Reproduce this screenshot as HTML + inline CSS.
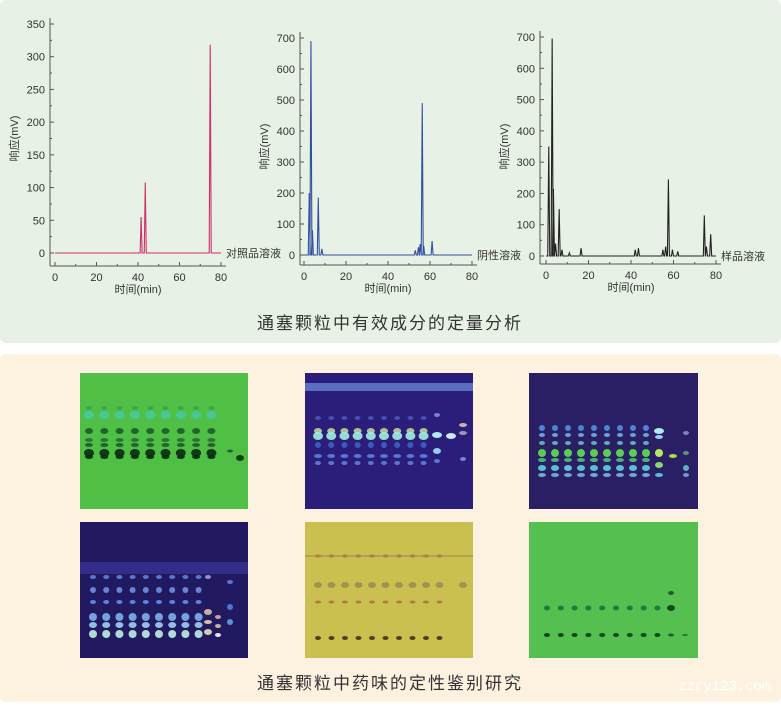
<!DOCTYPE html>
<html><head><meta charset="utf-8"><style>
body{margin:0;width:781px;height:702px;background:#fff;overflow:hidden;font-family:"Liberation Sans","Noto Sans CJK SC",sans-serif}
</style></head><body>
<svg id="s" width="781" height="702" xmlns="http://www.w3.org/2000/svg" font-family="Liberation Sans, Noto Sans CJK SC, sans-serif">
<rect x="0" y="0" width="781" height="343" rx="6" fill="#e8f1e5"/>
<rect x="0" y="354" width="781" height="348" rx="6" fill="#fdf1e0"/>
<text x="390" y="329" font-size="17" text-anchor="middle" fill="#333" letter-spacing="2">通塞颗粒中有效成分的定量分析</text>
<text x="390" y="689" font-size="17" text-anchor="middle" fill="#333" letter-spacing="2">通塞颗粒中药味的定性鉴别研究</text>
<text x="678" y="690" font-size="14" fill="#fff" font-family="Liberation Mono, monospace">zzry123.com</text>
<g id="charts"></g><g id="plates"></g>
</svg>
<script>
const NS="http://www.w3.org/2000/svg";
function el(t,a,txt,p){const e=document.createElementNS(NS,t);for(const k in a)e.setAttribute(k,a[k]);if(txt!==undefined&&txt!==null)e.textContent=String(txt);(p||document.getElementById('charts')).appendChild(e);return e;}
function chart(o){
 const {ax,x0,x80,yTop,y0,ymax,step,yb,peaks,col,label}=o;
 el('line',{x1:ax,y1:yTop-6,x2:ax,y2:yb,stroke:'#555','stroke-width':1});
 el('line',{x1:ax,y1:yb,x2:x80+5,y2:yb,stroke:'#555','stroke-width':1});
 for(let v=0;v<=ymax;v+=step/2){const y=y0-(y0-yTop)*v/ymax;const maj=(v%step==0);
  el('line',{x1:ax,y1:y,x2:ax+(maj?4:2),y2:y,stroke:'#555'});
  if(maj)el('text',{x:ax-5,y:y+4,'font-size':11,'text-anchor':'end',fill:'#333'},v);}
 for(let v=0;v<=80;v+=10){const x=x0+(x80-x0)*v/80;
  el('line',{x1:x,y1:yb,x2:x,y2:yb-(v%20==0?4:2),stroke:'#555'});
  if(v%20==0)el('text',{x:x,y:yb+15,'font-size':11,'text-anchor':'middle',fill:'#333'},v);}
 el('text',{x:(x0+x80)/2,y:yb+27,'font-size':11,'text-anchor':'middle',fill:'#333'},'时间(min)');
 const my=(yTop+y0)/2;
 el('text',{x:ax-32,y:my,'font-size':11,'text-anchor':'middle',fill:'#333',transform:`rotate(-90 ${ax-32} ${my})`},'响应(mV)');
 let d=`M${x0} ${y0}`;const X=t=>x0+(x80-x0)*t/80,Y=v=>y0-(y0-yTop)*v/ymax;
 peaks.sort((a,b)=>a[0]-b[0]);
 for(const [t,h] of peaks){d+=` L${X(t)-1} ${y0} L${X(t)} ${Y(h)} L${X(t)+1} ${y0}`;}
 d+=` L${x80} ${y0}`;
 el('path',{d:d,fill:'none',stroke:col,'stroke-width':1.1});
 el('text',{x:x80+5,y:y0+4,'font-size':11,fill:'#333'},label);
}
chart({ax:50,x0:55,x80:221,yTop:24,y0:253,ymax:350,step:50,yb:266,col:'#d0306a',label:'对照品溶液',peaks:[[41.5,55],[43.5,108],[74.8,318]]});
chart({ax:300,x0:304,x80:472,yTop:38,y0:255,ymax:700,step:100,yb:265,col:'#3050a0',label:'阴性溶液',peaks:[[2.5,200],[3.3,690],[4,80],[6.8,185],[8.5,20],[53,15],[54.5,25],[55.3,35],[56.3,490],[57,30],[61,45]]});
chart({ax:540,x0:546,x80:716,yTop:37,y0:256,ymax:700,step:100,yb:264,col:'#222',label:'样品溶液',peaks:[[1.3,350],[2.9,695],[3.5,215],[4.5,40],[6.2,150],[7.5,20],[11,10],[16.5,25],[42,20],[43.5,25],[55,20],[56.3,30],[57.6,245],[59.5,20],[62,15],[74.5,130],[75.5,30],[77.5,70]]});
const PG=document.getElementById('plates');
function plate(x,y,w,h,bg,lanes){
 el('rect',{x:x,y:y,width:w,height:h,fill:bg},null,PG);
 for(const L of lanes){for(const s of L.s){el('ellipse',{cx:x+L.x,cy:y+s[0],rx:s[2]||4,ry:s[3]||2.5,fill:s[1],opacity:s[4]||0.9},null,PG);}}
}
function lanes(n,x0,dx,spots){const a=[];for(let i=0;i<n;i++)a.push({x:x0+dx*i,s:spots});return a;}
let L=lanes(9,9,15.3,[[35,'#2e9a4a',3,2,0.6],[42,'#4ac8a0',5,4],[58,'#1e5a2a',4,3],[67,'#2a6a34',4,2],[72,'#1e5a2a',4,2],[80,'#0a2a10',5,4],[84,'#0a2a10',4,2]]);
L.push({x:150,s:[[78,'#1a5a2a',3,1.5]]});L.push({x:160,s:[[85,'#0a3010',4,3]]});
plate(80,373,168,136,'#4fbf45',L);
L=lanes(9,13,13.2,[[45,'#5a70d0',3,2,0.6],[58,'#c0d0a0',4,3],[63,'#a0f0e0',5,4],[72,'#4060c0',3,3],[83,'#5a80e0',4,2],[90,'#6080d0',3,2]]);
L.push({x:132,s:[[42,'#8090e0',3,2],[62,'#c0ffff',5,3],[78,'#a0e0ff',4,3],[88,'#6080d0',3,2]]});
L.push({x:146,s:[[63,'#e0ffff',5,3]]});L.push({x:158,s:[[52,'#e0c0b0',4,2],[60,'#b0a0c0',4,2],[86,'#8090d0',3,2]]});
plate(305,373,168,136,'#2a1e7a',L);
el('rect',{x:305,y:383,width:168,height:8,fill:'#7090e0',opacity:0.7},null,PG);
L=lanes(10,13,13,[[55,'#5090e0',3,3],[62,'#70b0e0',3,2],[70,'#60c0c0',3,2],[80,'#60e050',4,4],[87,'#50c080',4,2],[95,'#60d0e0',4,3],[102,'#80b0e0',4,2]]);
L[9].s=[[58,'#c0ffff',5,3],[64,'#a0e0ff',4,2],[80,'#c0ff60',4,4],[92,'#90f070',4,3],[102,'#60d0e0',4,2]];
L.push({x:144,s:[[83,'#c0f040',4,2]]});L.push({x:157,s:[[60,'#8090c0',3,2],[80,'#60a080',3,2],[95,'#60c0c0',3,3],[102,'#80a0e0',3,2]]});
plate(529,373,169,136,'#2a1e64',L);
L=lanes(9,13,13.2,[[55,'#6080e0',3,2],[68,'#7090e0',3,3],[80,'#6090f0',3,2],[95,'#80b0f0',4,4],[103,'#a0d0f0',4,3],[112,'#c0f0e0',4,4]]);
L.push({x:128,s:[[55,'#a0a0d0',3,2],[90,'#e0c0a0',4,3],[100,'#f0d0b0',4,2],[110,'#e0e0c0',4,3]]});
L.push({x:138,s:[[95,'#e0b0a0',3,2],[104,'#e0c0b0',3,2],[113,'#ffffff',3,2]]});
L.push({x:150,s:[[60,'#6080e0',3,2],[85,'#5080e0',3,3],[100,'#60a0e0',3,3]]});
plate(80,522,168,136,'#221a60',L);
el('rect',{x:80,y:562,width:168,height:12,fill:'#4040b0',opacity:0.5},null,PG);
L=lanes(10,13,13.5,[[34,'#a06030',3,1.5],[63,'#908050',4,3,0.7],[80,'#b07040',3,1.5],[116,'#403020',3,2]]);
L.push({x:158,s:[[63,'#908050',4,3,0.7]]});
plate(305,522,168,136,'#c9c050',L);
el('rect',{x:305,y:555,width:168,height:2,fill:'#b09050',opacity:0.7},null,PG);
L=lanes(9,18,13.8,[[86,'#207040',3,2.5],[113,'#0a3a18',3,2]]);
L.push({x:142,s:[[71,'#1a5030',3,2],[86,'#0a3a18',4,3],[113,'#1a5030',3,1.5]]});
L.push({x:156,s:[[113,'#2a6a30',3,1]]});
plate(529,522,169,136,'#55c050',L);
</script>
</body></html>
